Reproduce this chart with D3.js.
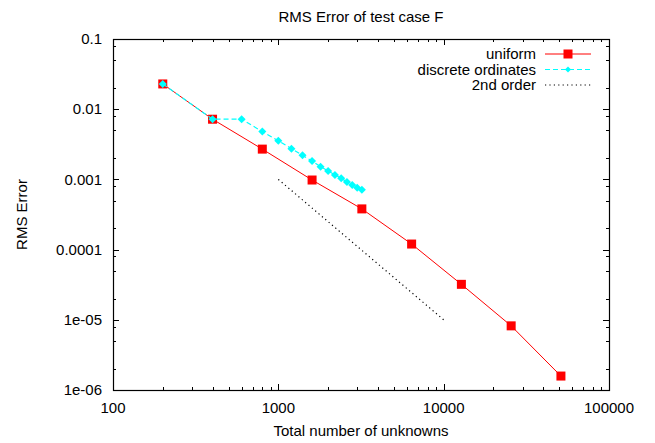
<!DOCTYPE html>
<html>
<head>
<meta charset="utf-8">
<script src="https://cdn.jsdelivr.net/npm/d3@7"></script>
<style>
  body { margin: 0; background: #fff; }
  text { font-family: "Liberation Sans", Arial, sans-serif; fill: #000; }
</style>
</head>
<body>
<div id="chart"></div>
<script>
const uniformN = [200, 400, 800, 1600, 3200, 6400, 12800, 25600, 51200];
const uniformErr = [0.0229, 0.0072, 0.0027, 0.00098, 0.00038, 0.00012, 0.000032, 0.0000082, 0.00000158];

const discreteN = [200, 400, 600, 800, 1000, 1200, 1400, 1600, 1800, 2000, 2200, 2400, 2600, 2800, 3000, 3200];
const discreteErr = [0.0229, 0.0072, 0.0072, 0.0048, 0.00356, 0.00274, 0.0022, 0.00183, 0.00152, 0.00132, 0.00116, 0.00104, 0.00092, 0.00083, 0.00076, 0.00071];

const secondN = [1000, 10000];
const secondErr = [0.001, 0.00001];

const xTicks = [100, 1000, 10000, 100000];
const yTicks = [0.1, 0.01, 0.001, 0.0001, 0.00001, 0.000001];
const yTickLabels = ["0.1", "0.01", "0.001", "0.0001", "1e-05", "1e-06"];

const W = 655, H = 443;
const margin = { top: 39, right: 46, bottom: 53, left: 113 };
const width = W - margin.left - margin.right;
const height = H - margin.top - margin.bottom;

const svg = d3.select("#chart").append("svg")
  .attr("width", W)
  .attr("height", H);

const x = d3.scaleLog().domain([100, 100000]).range([0, width]);
const y = d3.scaleLog().domain([0.000001, 0.1]).range([height, 0]);

const g = svg.append("g")
  .attr("transform", `translate(${margin.left},${margin.top})`);

// minor ticks: x at 2..9 per decade, y only at 2, 5, 8 like the original
const xMinor = [];
[100, 1000, 10000].forEach(d => {
  for (let k = 2; k <= 9; k++) xMinor.push(d * k);
});
const yMinor = [];
[0.000001, 0.00001, 0.0001, 0.001, 0.01].forEach(d => {
  [2, 5, 8].forEach(k => yMinor.push(d * k));
});

const MAJOR = 6, MINOR = 3;
const ticks = g.append("g").attr("stroke", "#000").attr("stroke-width", 1);

function tickLine(x1, y1, x2, y2) {
  ticks.append("line")
    .attr("x1", x1).attr("y1", y1)
    .attr("x2", x2).attr("y2", y2);
}

xTicks.forEach(v => {
  const px = Math.round(x(v)) + 0.5;
  tickLine(px, height, px, height - MAJOR);
  tickLine(px, 0, px, MAJOR);
});
xMinor.forEach(v => {
  const px = Math.round(x(v)) + 0.5;
  tickLine(px, height, px, height - MINOR);
  tickLine(px, 0, px, MINOR);
});
yTicks.forEach(v => {
  const py = Math.round(y(v)) + 0.5;
  tickLine(0, py, MAJOR, py);
  tickLine(width, py, width - MAJOR, py);
});
yMinor.forEach(v => {
  const py = Math.round(y(v)) + 0.5;
  tickLine(0, py, MINOR, py);
  tickLine(width, py, width - MINOR, py);
});

// tick labels
g.selectAll(".xlab")
  .data(xTicks)
  .enter().append("text")
  .attr("x", d => x(d))
  .attr("y", height + 23)
  .attr("text-anchor", "middle")
  .style("font-size", "15px")
  .text(d => d);

g.selectAll(".ylab")
  .data(yTicks)
  .enter().append("text")
  .attr("x", -11)
  .attr("y", d => y(d))
  .attr("dy", "0.35em")
  .attr("text-anchor", "end")
  .style("font-size", "15px")
  .text((d, i) => yTickLabels[i]);

// frame
g.append("rect")
  .attr("x", 0.5).attr("y", 0.5)
  .attr("width", width).attr("height", height)
  .attr("fill", "none")
  .attr("stroke", "#000")
  .attr("stroke-width", 1.2);

const line = d3.line()
  .x(d => x(d[0]))
  .y(d => y(d[1]));

const uniform = uniformN.map((n, i) => [n, uniformErr[i]]);
const discrete = discreteN.map((n, i) => [n, discreteErr[i]]);
const second = secondN.map((n, i) => [n, secondErr[i]]);

// 2nd order reference
g.append("path")
  .datum(second)
  .attr("d", line)
  .attr("fill", "none")
  .attr("stroke", "#000")
  .attr("stroke-width", 1.2)
  .attr("stroke-dasharray", "1.2,3.2");

// uniform
g.append("path")
  .datum(uniform)
  .attr("d", line)
  .attr("fill", "none")
  .attr("stroke", "#ff0000")
  .attr("stroke-width", 1);

const SQ = 9;
g.selectAll(".sq")
  .data(uniform)
  .enter().append("rect")
  .attr("x", d => x(d[0]) - SQ / 2)
  .attr("y", d => y(d[1]) - SQ / 2)
  .attr("width", SQ)
  .attr("height", SQ)
  .attr("fill", "#ff0000");

// discrete ordinates
g.append("path")
  .datum(discrete)
  .attr("d", line)
  .attr("fill", "none")
  .attr("stroke", "#00ffff")
  .attr("stroke-width", 1.2)
  .attr("stroke-dasharray", "5,3");

const diamond = r => `M0,${-r}L${r},0L0,${r}L${-r},0Z`;
g.selectAll(".dm")
  .data(discrete)
  .enter().append("path")
  .attr("d", diamond(4))
  .attr("transform", d => `translate(${x(d[0])},${y(d[1])})`)
  .attr("fill", "#00ffff");

// legend
const legend = svg.append("g");
const legendItems = ["uniform", "discrete ordinates", "2nd order"];
const legendY = [54, 69.5, 85];
const lx1 = 545, lx2 = 591;

legendItems.forEach((name, i) => {
  legend.append("text")
    .attr("x", 536)
    .attr("y", legendY[i])
    .attr("dy", "0.35em")
    .attr("text-anchor", "end")
    .style("font-size", "15px")
    .text(name);
});

legend.append("line")
  .attr("x1", lx1).attr("x2", lx2)
  .attr("y1", legendY[0]).attr("y2", legendY[0])
  .attr("stroke", "#ff0000");
legend.append("rect")
  .attr("x", (lx1 + lx2) / 2 - SQ / 2)
  .attr("y", legendY[0] - SQ / 2)
  .attr("width", SQ).attr("height", SQ)
  .attr("fill", "#ff0000");

legend.append("line")
  .attr("x1", lx1).attr("x2", lx2)
  .attr("y1", legendY[1]).attr("y2", legendY[1])
  .attr("stroke", "#00ffff")
  .attr("stroke-width", 1.2)
  .attr("stroke-dasharray", "5,3");
legend.append("path")
  .attr("d", diamond(3))
  .attr("transform", `translate(${(lx1 + lx2) / 2},${legendY[1]})`)
  .attr("fill", "#00ffff");

legend.append("line")
  .attr("x1", lx1).attr("x2", lx2)
  .attr("y1", legendY[2]).attr("y2", legendY[2])
  .attr("stroke", "#000")
  .attr("stroke-width", 1.2)
  .attr("stroke-dasharray", "1.2,3.2");

// titles
svg.append("text")
  .attr("x", margin.left + width / 2)
  .attr("y", 17)
  .attr("dy", "0.35em")
  .attr("text-anchor", "middle")
  .style("font-size", "15px")
  .text("RMS Error of test case F");

svg.append("text")
  .attr("x", margin.left + width / 2)
  .attr("y", 431)
  .attr("dy", "0.35em")
  .attr("text-anchor", "middle")
  .style("font-size", "15px")
  .text("Total number of unknowns");

svg.append("text")
  .attr("transform", `translate(22,${margin.top + height / 2}) rotate(-90)`)
  .attr("dy", "0.35em")
  .attr("text-anchor", "middle")
  .style("font-size", "15px")
  .text("RMS Error");
</script>
</body>
</html>
